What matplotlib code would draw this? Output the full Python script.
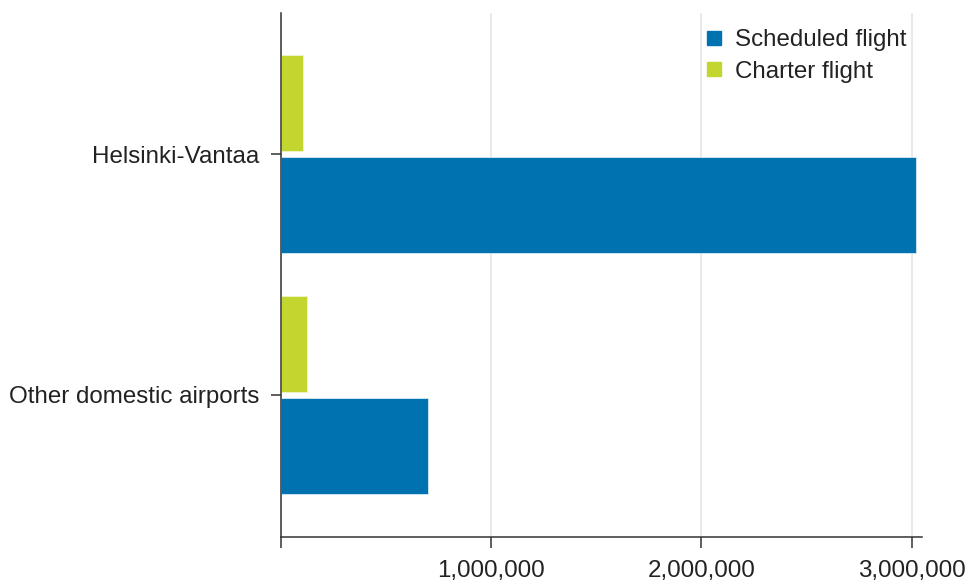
import matplotlib
matplotlib.use("Agg")
import matplotlib.pyplot as plt
from matplotlib.ticker import FuncFormatter, FixedLocator
from matplotlib.lines import Line2D

categories = ["Helsinki-Vantaa", "Other domestic airports"]
scheduled = [3022000, 700000]
charter = [107000, 127000]
series_names = ["Scheduled flight", "Charter flight"]
xticks = [0, 1000000, 2000000, 3000000]

blue = "#0072AF"
green = "#C3D62F"
text_color = "#222222"
axis_color = "#333333"

plt.rcParams['font.family'] = ['Liberation Sans', 'DejaVu Sans']
fs = 17.4

fig = plt.figure(figsize=(9.67, 5.81), dpi=100)
ax = fig.add_axes([0.2901, 0.0757, 0.9535 - 0.2901, (537 - 13) / 581])

pos = list(range(len(categories)))
h = 0.40
off = 0.212
ax.barh([p + off for p in pos], scheduled, height=h, color=blue, zorder=2,
        edgecolor="#d6eaf5", linewidth=0.6)
ax.barh([p - off for p in pos], charter, height=h, color=green, zorder=2,
        edgecolor="#eef5cf", linewidth=0.6)

ax.set_ylim(1.591, -0.586)
ax.set_xlim(0, 3050000)
ax.set_yticks(pos)
ax.set_yticklabels(categories, fontsize=fs, color=text_color)
ax.xaxis.set_major_locator(FixedLocator(xticks))
ax.xaxis.set_major_formatter(FuncFormatter(lambda v, p: "" if v == 0 else f"{int(v):,}"))
ax.tick_params(axis="x", length=8, width=1.1, color=axis_color, pad=8.5, labelsize=fs, labelcolor=text_color)
ax.tick_params(axis="y", length=7.5, width=1.1, color=axis_color, pad=7.5, labelsize=fs, labelcolor=text_color)

ax.grid(axis="x", color="#e3e3e3", linewidth=1.1, zorder=0)
ax.set_axisbelow(True)
for s in ["top", "right"]:
    ax.spines[s].set_visible(False)
for s in ["left", "bottom"]:
    ax.spines[s].set_color(axis_color)
    ax.spines[s].set_linewidth(1.1)

handles = [Line2D([0], [0], marker="s", linestyle="none", markersize=9.4,
                  markerfacecolor=c, markeredgecolor=c) for c in (blue, green)]
leg = fig.legend(handles, series_names, loc="upper left",
                 bbox_to_anchor=(704 / 967, (581 - 29) / 581),
                 frameon=False, fontsize=fs, handlelength=0.8, handletextpad=0.5,
                 labelspacing=0.41, borderpad=0, borderaxespad=0)
for t in leg.get_texts():
    t.set_color(text_color)

fig.savefig("out.png", dpi=100)
